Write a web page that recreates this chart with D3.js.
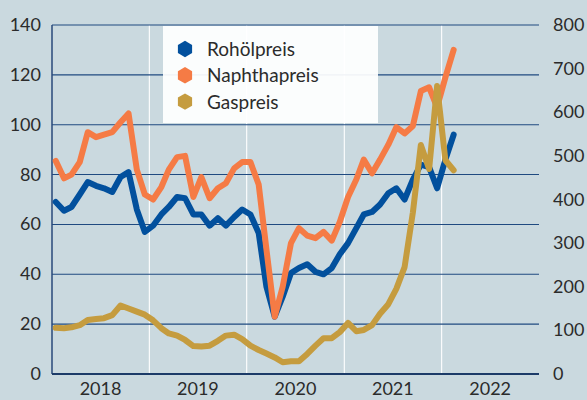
<!DOCTYPE html>
<html>
<head>
<meta charset="utf-8">
<script src="https://cdn.jsdelivr.net/npm/d3@7"></script>
<style>
  html, body { margin: 0; padding: 0; background: #cad9df; }
  svg { display: block; }
</style>
</head>
<body>
<div id="chart"></div>
<script>
// monthly values Jan 2018 - Feb 2022
var startMonth = '2018-01';
var oil = [69, 65.5, 67, 72, 77, 75.5, 74.5, 73, 79, 81, 66, 57,
    59.5, 64, 67, 71, 70.5, 64, 64, 59.5, 62.5, 59.5, 63, 66,
    64, 56.5, 35, 23, 31, 40.5, 42.5, 44, 41, 40, 42.5, 48,
    52.5, 58.5, 64, 65, 68, 72.5, 74.5, 70, 78, 84, 83, 74.5,
    86, 96];
var naphtha = [85.5, 78.5, 80, 85, 97, 95, 96, 97, 101, 104.5, 82, 72,
    70, 75, 82, 87, 87.5, 71, 79, 70.5, 74.5, 76.5, 82.5, 85,
    85, 76, 50, 23, 35, 52.5, 58.5, 55.5, 54.5, 57, 53.5, 61,
    71, 78, 86, 80.5, 86, 92, 99, 96.5, 99.5, 113.5, 115, 107,
    119, 130];
var gas = [106, 105, 107, 112, 124, 126, 128, 135, 157, 150, 143, 136,
    123, 105, 93, 88, 78, 64, 63, 65, 76, 88, 90, 80,
    65, 55, 47, 38, 27, 29, 29, 46, 65, 82, 82, 96,
    117, 98, 101, 112, 138, 160, 195, 245, 370, 525, 470, 660,
    490, 467];

var leftTicks = [0, 20, 40, 60, 80, 100, 120, 140];
var rightTicks = [0, 100, 200, 300, 400, 500, 600, 700, 800];
var years = [2018, 2019, 2020, 2021, 2022];
var seriesNames = ['Rohölpreis', 'Naphthapreis', 'Gaspreis'];
var seriesColors = ['#02509d', '#f57b45', '#c59c3f'];

var width = 587, height = 400;
var margin = {top: 25, right: 48, bottom: 26, left: 52};

var svg = d3.select('#chart').append('svg')
    .attr('width', width)
    .attr('height', height)
    .style('font-family', 'Lato, sans-serif');

svg.append('rect')
    .attr('width', width)
    .attr('height', height)
    .attr('fill', '#cad9df');

var x = d3.scaleTime()
    .domain([new Date(2018, 0, 1), new Date(2023, 0, 1)])
    .range([margin.left, width - margin.right]);

var yLeft = d3.scaleLinear()
    .domain([0, 140])
    .range([height - margin.bottom, margin.top]);

var yRight = d3.scaleLinear()
    .domain([0, 800])
    .range([height - margin.bottom, margin.top]);

var parseMonth = d3.timeParse('%Y-%m');
var start = parseMonth(startMonth);
function monthDate(i) {
    var d = d3.timeMonth.offset(start, i);
    return new Date(d.getFullYear(), d.getMonth(), 15);
}

// year separators (white)
svg.append('g')
    .selectAll('line')
    .data(years.slice(1))
    .join('line')
    .attr('x1', d => x(new Date(d, 0, 1)))
    .attr('x2', d => x(new Date(d, 0, 1)))
    .attr('y1', yLeft(140))
    .attr('y2', yLeft(0))
    .attr('stroke', '#fff')
    .attr('stroke-width', 1.1);

// horizontal grid
svg.append('g')
    .selectAll('line')
    .data(leftTicks.slice(1))
    .join('line')
    .attr('x1', margin.left)
    .attr('x2', width - margin.right)
    .attr('y1', d => yLeft(d))
    .attr('y2', d => yLeft(d))
    .attr('stroke', '#1f4a80')
    .attr('stroke-width', 1.1);

// left axis line
svg.append('line')
    .attr('x1', margin.left).attr('x2', margin.left)
    .attr('y1', yLeft(140)).attr('y2', yLeft(0))
    .attr('stroke', '#28497a')
    .attr('stroke-width', 1.5);

// bottom axis line
svg.append('line')
    .attr('x1', margin.left).attr('x2', width - margin.right)
    .attr('y1', yLeft(0)).attr('y2', yLeft(0))
    .attr('stroke', '#1c3b68')
    .attr('stroke-width', 1.8);

// tick labels
svg.append('g')
    .selectAll('text')
    .data(leftTicks)
    .join('text')
    .attr('x', 41)
    .attr('y', d => yLeft(d) + 6)
    .attr('text-anchor', 'end')
    .attr('font-size', 18)
    .attr('fill', '#2b2b2b')
    .text(d => d);

svg.append('g')
    .selectAll('text')
    .data(rightTicks)
    .join('text')
    .attr('x', 553)
    .attr('y', d => yRight(d) + 6)
    .attr('text-anchor', 'start')
    .attr('font-size', 18)
    .attr('fill', '#2b2b2b')
    .text(d => d);

svg.append('g')
    .selectAll('text')
    .data(years)
    .join('text')
    .attr('x', d => x(new Date(d, 6, 2)))
    .attr('y', 395)
    .attr('text-anchor', 'middle')
    .attr('font-size', 18)
    .attr('fill', '#2b2b2b')
    .text(d => d);

// lines
var lineLeft = d3.line()
    .x((d, i) => x(monthDate(i)))
    .y(d => yLeft(d));
var lineRight = d3.line()
    .x((d, i) => x(monthDate(i)))
    .y(d => yRight(d));

var series = [
    {values: oil, line: lineLeft},
    {values: naphtha, line: lineLeft},
    {values: gas, line: lineRight}
];

svg.append('g')
    .selectAll('path')
    .data(series)
    .join('path')
    .attr('d', d => d.line(d.values))
    .attr('fill', 'none')
    .attr('stroke', (d, i) => seriesColors[i])
    .attr('stroke-width', 6)
    .attr('stroke-linejoin', 'round')
    .attr('stroke-linecap', 'round');

// legend
var legend = svg.append('g')
    .attr('transform', 'translate(163, 26)');
legend.append('rect')
    .attr('width', 215)
    .attr('height', 97)
    .attr('fill', '#fff')
    .attr('opacity', 0.93);

function hexagon(r) {
    var pts = d3.range(6).map(function(k) {
        var a = (k * 60 - 90) * Math.PI / 180;
        return [r * Math.cos(a), r * Math.sin(a)];
    });
    return 'M' + pts.join('L') + 'Z';
}

var items = legend.selectAll('g.item')
    .data(seriesNames)
    .join('g')
    .attr('class', 'item')
    .attr('transform', (d, i) => `translate(22, ${23 + i * 26.3})`);

items.append('path')
    .attr('d', hexagon(8.2))
    .attr('fill', (d, i) => seriesColors[i]);

items.append('text')
    .attr('x', 22)
    .attr('y', 7)
    .attr('font-size', 19)
    .attr('fill', '#2b2b2b')
    .text(d => d);
</script>
</body>
</html>
